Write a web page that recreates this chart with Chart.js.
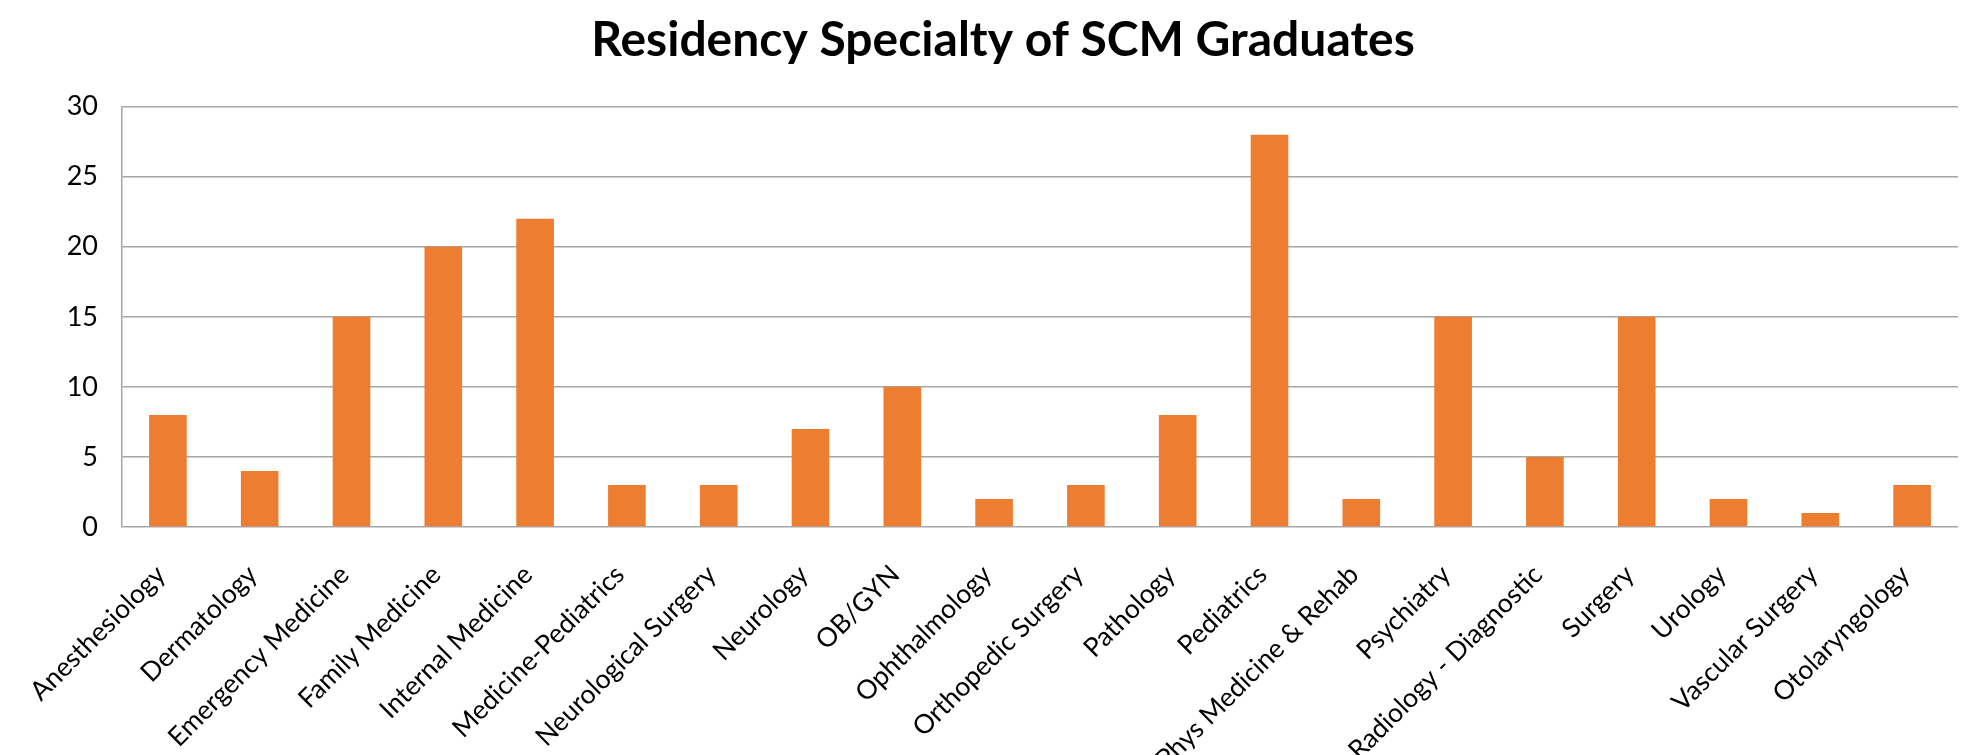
<!DOCTYPE html>
<html>
<head>
<meta charset="utf-8">
<script src="https://cdn.jsdelivr.net/npm/chart.js@4"></script>
<style>
  html, body { margin: 0; padding: 0; background: #fff; }
  #wrap { width: 1973px; height: 755px; }
</style>
</head>
<body>
<div id="wrap"><canvas id="specialtyChart"></canvas></div>
<script>
const specialties = [
    'Anesthesiology', 'Dermatology', 'Emergency Medicine', 'Family Medicine',
    'Internal Medicine', 'Medicine-Pediatrics', 'Neurological Surgery', 'Neurology',
    'OB/GYN', 'Ophthalmology', 'Orthopedic Surgery', 'Pathology', 'Pediatrics',
    'Phys Medicine & Rehab', 'Psychiatry', 'Radiology - Diagnostic', 'Surgery',
    'Urology', 'Vascular Surgery', 'Otolaryngology'
];
const graduates = [8, 4, 15, 20, 22, 3, 3, 7, 10, 2, 3, 8, 28, 2, 15, 5, 15, 2, 1, 3];
const yTicks = [0, 5, 10, 15, 20, 25, 30];

document.addEventListener('DOMContentLoaded', function() {
    const ctx = document.getElementById('specialtyChart').getContext('2d');
    const fontName = 'Lato, "Open Sans", sans-serif';

    new Chart(ctx, {
        type: 'bar',
        data: {
            labels: specialties,
            datasets: [{
                label: 'Graduates',
                data: graduates,
                backgroundColor: '#ED7D31',
                borderWidth: 0,
                categoryPercentage: 1,
                barPercentage: 0.41
            }]
        },
        options: {
            responsive: true,
            maintainAspectRatio: false,
            animation: false,
            // left/right padding also nudges the centred title to the right
            layout: { padding: { left: 48, right: 15, top: 0, bottom: 0 } },
            plugins: {
                legend: { display: false },
                tooltip: { enabled: false },
                title: {
                    display: true,
                    text: 'Residency Specialty of SCM Graduates',
                    color: '#000',
                    font: { family: fontName, size: 48, weight: 'bold', lineHeight: 1.2 },
                    padding: { top: 12, bottom: 37 }
                }
            },
            scales: {
                x: {
                    grid: { display: false },
                    border: { display: false },
                    ticks: {
                        color: '#000',
                        font: { family: fontName, size: 26.5 },
                        minRotation: 45,
                        maxRotation: 45,
                        autoSkip: false,
                        padding: 24,
                        labelOffset: -7
                    },
                    afterFit: function(scale) { scale.height = 228; }
                },
                y: {
                    min: 0,
                    max: 30,
                    afterBuildTicks: function(scale) {
                        scale.ticks = yTicks.map(v => ({ value: v }));
                    },
                    grid: { color: '#A6A6A6', lineWidth: 1.5, drawTicks: false },
                    border: { display: true, color: '#A6A6A6', width: 1.5 },
                    ticks: {
                        color: '#000',
                        font: { family: fontName, size: 27 },
                        padding: 24
                    },
                    afterFit: function(scale) { scale.width = 74; }
                }
            }
        }
    });
});
</script>
</body>
</html>
